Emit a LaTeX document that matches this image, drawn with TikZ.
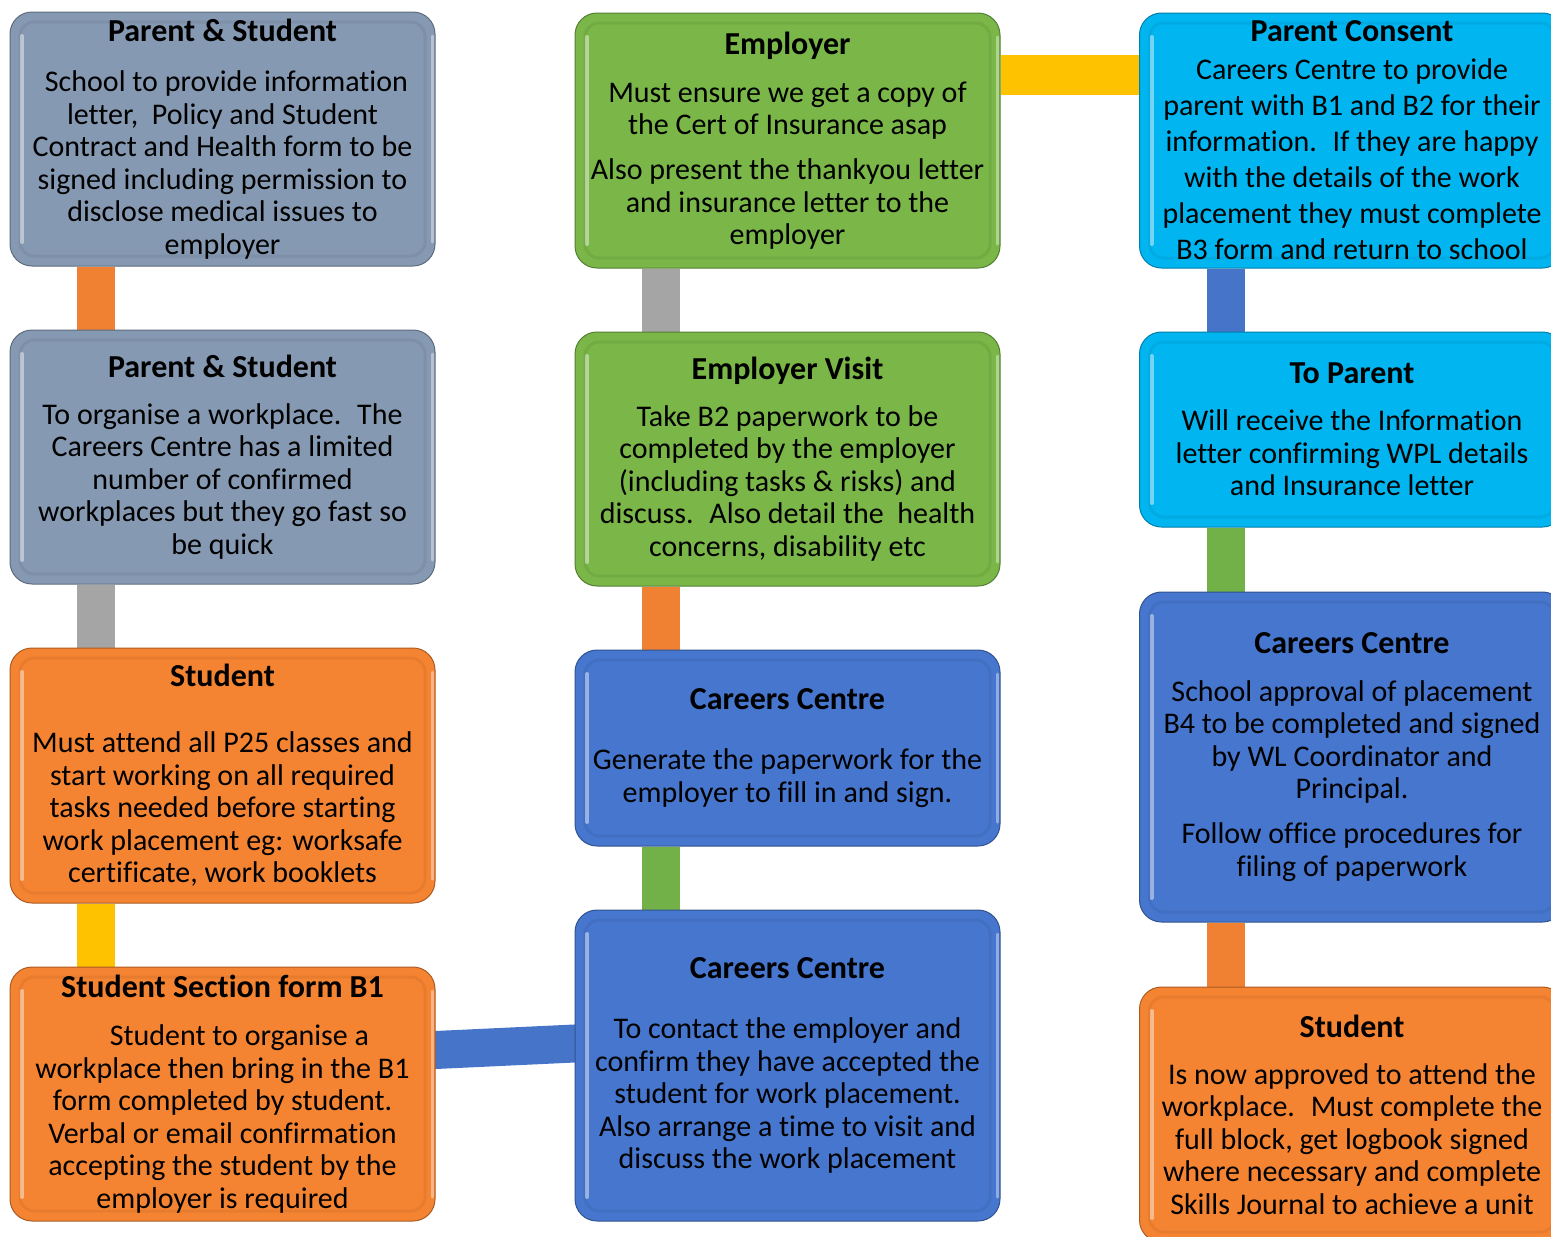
\documentclass[tikz,border=0pt]{standalone}
\usepackage{fontspec}
\setmainfont{Carlito}[Ligatures=NoCommon]
\usepackage{tikz}
\usetikzlibrary{backgrounds}

\definecolor{slate}{RGB}{134,153,178}
\definecolor{tangerine}{RGB}{245,132,50}
\definecolor{leaf}{RGB}{122,182,72}
\definecolor{royal}{RGB}{70,118,205}
\definecolor{sky}{RGB}{0,181,240}
\definecolor{barorange}{RGB}{240,128,50}
\definecolor{bargray}{RGB}{165,165,165}
\definecolor{baryellow}{RGB}{255,194,0}
\definecolor{barblue}{RGB}{70,116,200}
\definecolor{bargreen}{RGB}{114,176,72}

\newcommand{\heading}[1]{{\fontsize{32}{32.5}\selectfont\bfseries #1}}

\tikzset{
  stage/.style={rounded corners=22pt, minimum width=425pt, inner sep=0pt, align=center,
    draw=#1!70!black, line width=1pt, fill=#1,
    font=\fontsize{30}{32.5}\selectfont,
    path picture={
      % bevel edge
      \draw[#1!60!black, opacity=.14, line width=3pt, rounded corners=14pt]
        ([shift={(10pt,10pt)}]path picture bounding box.south west) rectangle
        ([shift={(-10pt,-10pt)}]path picture bounding box.north east);
      % light on the left and right sides
      \draw[white, opacity=.45, line width=4pt, line cap=round]
        ([shift={(12pt,24pt)}]path picture bounding box.south west) --
        ([shift={(12pt,-24pt)}]path picture bounding box.north west);
      \draw[white, opacity=.4, line width=3pt, line cap=round]
        ([shift={(-2.5pt,24pt)}]path picture bounding box.south east) --
        ([shift={(-2.5pt,-24pt)}]path picture bounding box.north east);}},
  link/.style={draw=#1, line width=38pt},
}

\begin{document}
\begin{tikzpicture}[x=1pt,y=1pt,yscale=-1,xscale=1]
		\useasboundingbox (0,0) rectangle (1551,1237);

		%Lanes for the bars
		\coordinate (lane1) at (96,0);
		\coordinate (lane2) at (661,0);
		\coordinate (lane3) at (1226,0);
		\coordinate (rowtop) at (0,75);
		\coordinate (rowleft) at (0,1050);
		\coordinate (rowright) at (0,1043.5);

		%Left column
		\node (ps1) at (222.5,139) [stage=slate, minimum height=254pt]
			{\heading{Parent \& Student}\\[17.5pt]\hspace*{8pt}School to provide information\\letter,~ Policy and Student\\Contract and Health form to be\\signed including permission to\\disclose medical issues to\\employer};
		\node (ps2) at (222.5,457) [stage=slate, minimum height=254pt]
			{\heading{Parent \& Student}\\[14.5pt]To organise a workplace.~ The\\Careers Centre has a limited\\number of confirmed\\workplaces but they go fast so\\be quick};
		\node (st1) at (222.5,775.5) [stage=tangerine, minimum height=255pt]
			{\heading{Student}\\[33.5pt]Must attend all P25 classes and\\start working on all required\\tasks needed before starting\\work placement eg: worksafe\\certificate, work booklets};
		\node (b1) at (222.5,1094) [stage=tangerine, minimum height=254pt]
			{\heading{Student Section form B1}\\[15.5pt]\hspace*{34pt}Student to organise a\\workplace then bring in the B1\\form completed by student.\\Verbal or email confirmation\\accepting the student by the\\employer is required};

		%Middle column
		\node (emp) at (787.5,140.5) [stage=leaf, minimum height=255pt]
			{\heading{Employer}\\[15.5pt]Must ensure we get a copy of\\the Cert of Insurance asap\\[12.5pt]Also present the thankyou letter\\and insurance letter to the\\employer};
		\node (visit) at (787.5,459) [stage=leaf, minimum height=254pt]
			{\heading{Employer Visit}\\[14.5pt]Take B2 paperwork to be\\completed by the employer\\(including tasks \& risks) and\\discuss.~ Also detail the~ health\\concerns, disability etc};
		\node (cc1) at (787.5,748) [stage=royal, minimum height=196pt]
			{\heading{Careers Centre}\\[27.5pt]Generate the paperwork for the\\employer to fill in and sign.};
		\node (cc2) at (787.5,1065.5) [stage=royal, minimum height=311pt]
			{\heading{Careers Centre}\\[27.5pt]To contact the employer and\\confirm they have accepted the\\student for work placement.\\Also arrange a time to visit and\\discuss the work placement};

		%Right column
		\node (pc) at (1352,140.5) [stage=sky, minimum height=255pt, font=\fontsize{30}{36}\selectfont]
			{\heading{Parent Consent}\\[2pt]Careers Centre to provide\\parent with B1 and B2 for their\\information.~ If they are happy\\with the details of the work\\placement they must complete\\B3 form and return to school};
		\node (tp) at (1352,429.5) [stage=sky, minimum height=195pt]
			{\heading{To Parent}\\[14.5pt]Will receive the Information\\letter confirming WPL details\\and Insurance letter};
		\node (cc3) at (1352,757) [stage=royal, minimum height=330pt]
			{\heading{Careers Centre}\\[15.5pt]School approval of placement\\B4 to be completed and signed\\by WL Coordinator and\\Principal.\\[12.5pt]Follow office procedures for\\filing of paperwork};
		\node (st2) at (1352,1114.5) [stage=tangerine, minimum height=255pt]
			{\heading{Student}\\[14.5pt]Is now approved to attend the\\workplace.~ Must complete the\\full block, get logbook signed\\where necessary and complete\\Skills Journal to achieve a unit};

		%Bars
		\begin{scope}[on background layer]
			\draw[link=barorange] (ps1.south -| lane1) -- (ps2.north -| lane1);
			\draw[link=bargray] (ps2.south -| lane1) -- (st1.north -| lane1);
			\draw[link=baryellow] (st1.south -| lane1) -- (b1.north -| lane1);
			\draw[link=barblue, shorten <=-4pt, shorten >=-4pt] (b1.east |- rowleft) -- (cc2.west |- rowright);
			\draw[link=bargray] (emp.south -| lane2) -- (visit.north -| lane2);
			\draw[link=barorange] (visit.south -| lane2) -- (cc1.north -| lane2);
			\draw[link=bargreen] (cc1.south -| lane2) -- (cc2.north -| lane2);
			\draw[link=baryellow, line width=40pt] (emp.east |- rowtop) -- (pc.west |- rowtop);
			\draw[link=barblue] (pc.south -| lane3) -- (tp.north -| lane3);
			\draw[link=bargreen] (tp.south -| lane3) -- (cc3.north -| lane3);
			\draw[link=barorange] (cc3.south -| lane3) -- (st2.north -| lane3);
		\end{scope}

\end{tikzpicture}
\end{document}
